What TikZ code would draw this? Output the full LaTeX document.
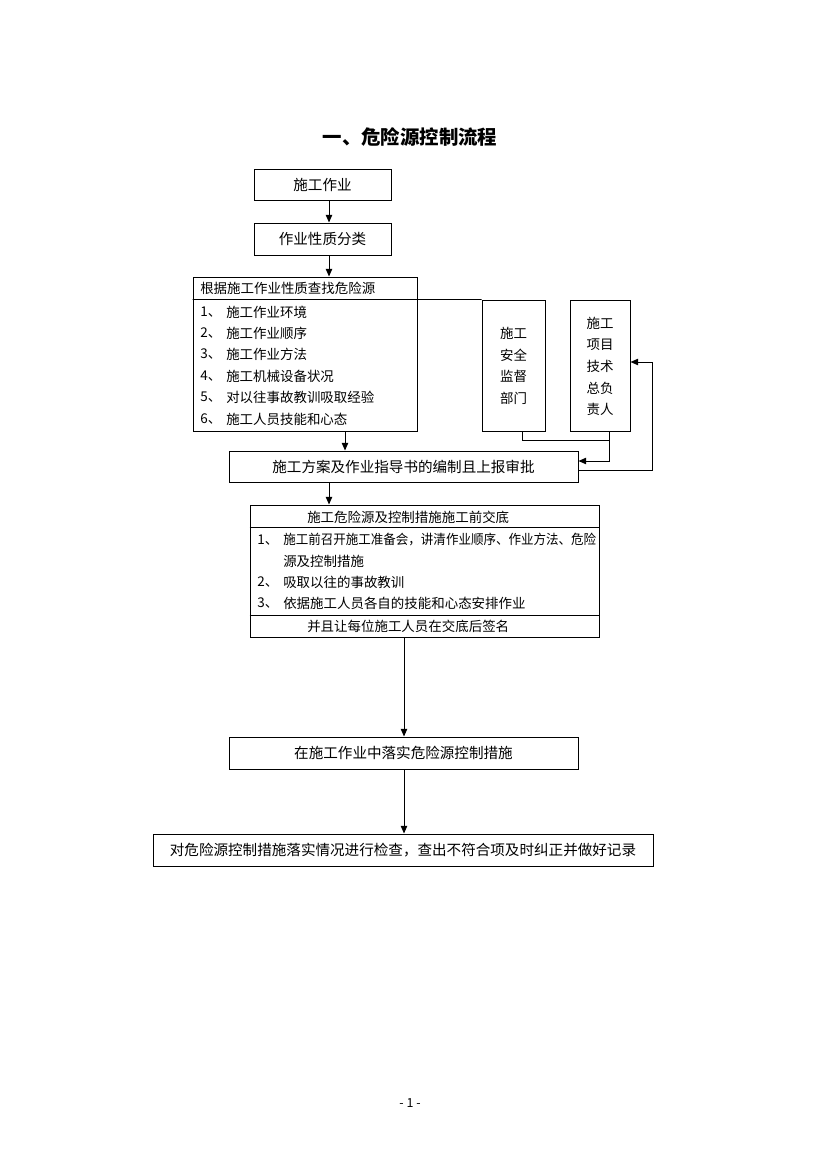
\documentclass[tikz,border=0pt]{standalone}
\usepackage{fontspec}
\setmainfont{Noto Sans CJK SC}
\usetikzlibrary{arrows.meta}
\newdimen\pxu \pxu=0.7207pt
\tikzset{
  box/.style={draw, line width=0.7pt, inner sep=0pt, font=\fontsize{10.5pt}{12pt}\selectfont},
  plain/.style={inner sep=0pt, font=\fontsize{9.7pt}{11pt}\selectfont},
  vtext/.style={inner sep=0pt, align=center, font=\fontsize{9.7pt}{15.6pt}\selectfont},
  conn/.style={line width=0.7pt},
  arr/.style={line width=0.7pt, -{Triangle[length=5.5pt,width=4.6pt]}},
}
\begin{document}
\begin{tikzpicture}[x=\pxu,y=-\pxu]
\useasboundingbox (0,0) rectangle (826,1169);
% title
\node[inner sep=0pt, font=\fontsize{14pt}{16pt}\selectfont\bfseries] (title) at (410,137) {一、危险源控制流程};
% boxes
\node[box, minimum width=137\pxu, minimum height=31\pxu] (a) at (322.5,184.5) {施工作业};
\node[box, minimum width=137\pxu, minimum height=32\pxu] (b) at (322.5,239) {作业性质分类};
\node[box, minimum width=224\pxu, minimum height=154\pxu] (c) at (305,354) {};
\node[box, minimum width=63\pxu, minimum height=131\pxu] (d) at (513.5,365.5) {};
\node[box, minimum width=60\pxu, minimum height=131\pxu] (e) at (600,365.5) {};
\node[box, minimum width=349\pxu, minimum height=31\pxu] (f) at (403.5,466.5) {施工方案及作业指导书的编制且上报审批};
\node[box, minimum width=349\pxu, minimum height=132\pxu] (g) at (424.5,571) {};
\node[box, minimum width=349\pxu, minimum height=32\pxu] (h) at (403.5,753) {在施工作业中落实危险源控制措施};
\node[box, minimum width=500\pxu, minimum height=32\pxu] (i) at (403,850) {对危险源控制措施落实情况进行检查，查出不符合项及时纠正并做好记录};
% contents of c
\node[plain, anchor=west] (c0) at (200,288) {根据施工作业性质查找危险源};
\draw[conn] (c.west |- 0,299.5) -- (d.north west);
\node[plain, anchor=west] (cn1) at (200,312) {1、};
\node[plain, anchor=west] (ct1) at (226,312) {施工作业环境};
\node[plain, anchor=west] (cn2) at (200,333) {2、};
\node[plain, anchor=west] (ct2) at (226,333) {施工作业顺序};
\node[plain, anchor=west] (cn3) at (200,354) {3、};
\node[plain, anchor=west] (ct3) at (226,354) {施工作业方法};
\node[plain, anchor=west] (cn4) at (200,376) {4、};
\node[plain, anchor=west] (ct4) at (226,376) {施工机械设备状况};
\node[plain, anchor=west] (cn5) at (200,397) {5、};
\node[plain, anchor=west] (ct5) at (226,397) {对以往事故教训吸取经验};
\node[plain, anchor=west] (cn6) at (200,419) {6、};
\node[plain, anchor=west] (ct6) at (226,419) {施工人员技能和心态};
% contents of d, e
\node[vtext] (dt) at (513.5,366) {施工\\安全\\监督\\部门};
\node[vtext] (et) at (600,366.5) {施工\\项目\\技术\\总负\\责人};
% contents of g
\node[plain, anchor=west] (g0) at (307,517) {施工危险源及控制措施施工前交底};
\draw[conn] (g.west |- 0,527) -- (g.east |- 0,527);
\node[plain, anchor=west] (gn1) at (257,540) {1、};
\node[plain, anchor=west] (gt1) at (283,540) {\scalebox{0.93}[1]{施工前召开施工准备会，讲清作业顺序、作业方法、危险}};
\node[plain, anchor=west] (gt1b) at (283,561) {源及控制措施};
\node[plain, anchor=west] (gn2) at (257,582) {2、};
\node[plain, anchor=west] (gt2) at (283,582) {吸取以往的事故教训};
\node[plain, anchor=west] (gn3) at (257,603) {3、};
\node[plain, anchor=west] (gt3) at (283,603) {依据施工人员各自的技能和心态安排作业};
\draw[conn] (g.west |- 0,615) -- (g.east |- 0,615);
\node[plain, anchor=west] (g9) at (307,626) {并且让每位施工人员在交底后签名};
% connectors
\draw[arr] (a.south -| 329,0) -- (b.north -| 329,0);
\draw[arr] (b.south -| 329,0) -- (c.north -| 329,0);
\draw[arr] (c.south -| 345,0) -- (f.north -| 345,0);
\draw[arr] (f.south -| 329,0) -- (g.north -| 329,0);
\draw[arr] (g.south -| 404,0) -- (h.north -| 404,0);
\draw[arr] (h.south -| 404,0) -- (i.north -| 404,0);
\draw[conn] (d.south -| 522,0) |- (609,440);
\draw[arr] (e.south -| 609,0) |- (f.east |- 0,461);
\draw[arr] (f.east |- 0,470) -| (652,362) -- (e.east |- 0,362);
% page number
\node[inner sep=0pt, font=\fontsize{9pt}{10pt}\selectfont] (pg) at (410,1103) {- 1 -};
\end{tikzpicture}
\end{document}
